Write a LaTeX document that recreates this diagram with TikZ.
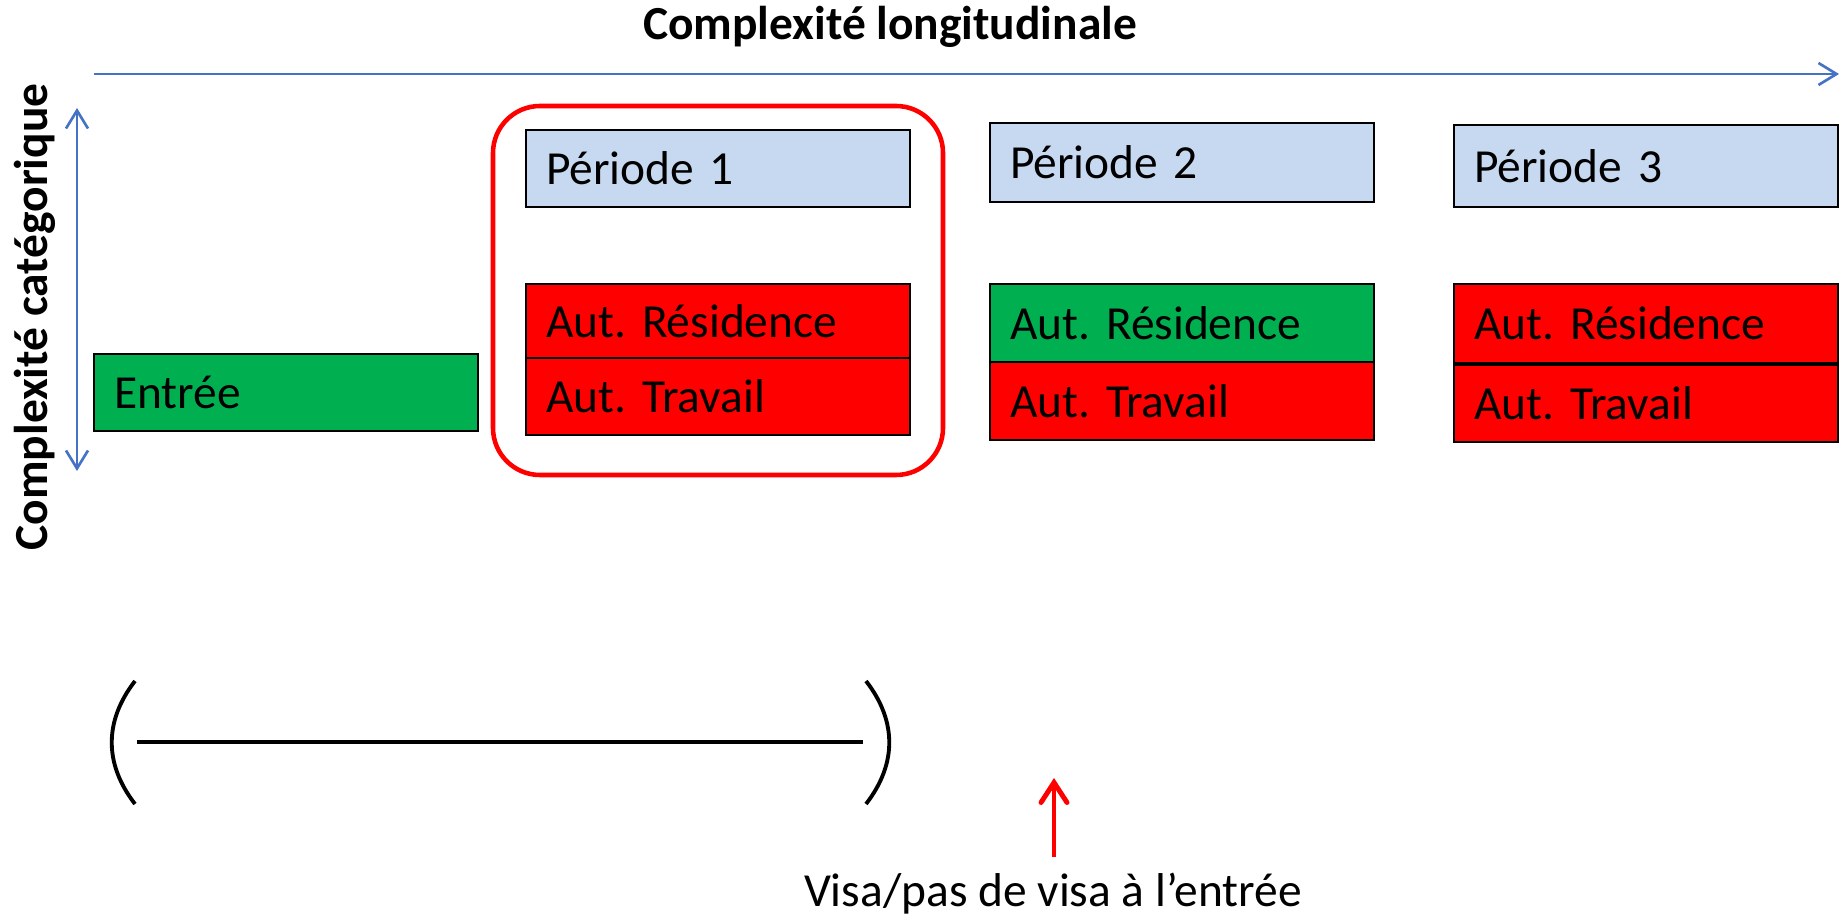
\documentclass[tikz,border=0pt]{standalone}
\usepackage{fontspec}
\setmainfont{Carlito}
\usetikzlibrary{arrows.meta,positioning}

\definecolor{axisblue}{RGB}{68,114,196}
\definecolor{perblue}{RGB}{198,217,240}
\definecolor{okgreen}{RGB}{0,176,80}
\definecolor{kored}{RGB}{255,0,0}

\tikzset{
  cell/.style={draw=black, line width=0.8pt, anchor=north west, text width=3.44cm,
    inner xsep=0.2cm, inner ysep=0pt, outer sep=0pt, minimum height=0.77cm, align=left},
  axis/.style={axisblue, line width=0.75pt},
  axislabel/.style={font=\fontsize{13.5}{16}\selectfont\bfseries}
}

\begin{document}
\frenchspacing
\begin{tikzpicture}[font=\fontsize{13.5}{16}\selectfont]
  \useasboundingbox (0,0) rectangle (18.48,9.21);

  % axes
  \node[axislabel] (xlab) at (8.90,8.94) {Complexité longitudinale};
  \draw[axis, -{Straight Barb[length=0.18cm, width=0.22cm]}] (0.94,8.47) -- (18.39,8.47);
  \node[axislabel, rotate=90] (ylab) at (0.35,6.04) {Complexité catégorique};
  \draw[axis, {Straight Barb[length=0.18cm, width=0.22cm]}-{Straight Barb[length=0.18cm, width=0.22cm]}] (0.77,8.13) -- (0.77,4.50);

  % entry
  \node[cell, fill=okgreen] (entree) at (0.94,5.67) {Entrée};

  % period 1
  \draw[kored, line width=1.3pt, rounded corners=0.47cm] (4.93,4.46) rectangle (9.43,8.15);
  \node[cell, fill=perblue] (per1) at (5.26,7.91) {Période 1};
  \node[cell, fill=kored, minimum height=0.74cm] (res1) at (5.26,6.37) {Aut. Résidence};
  \node[cell, fill=kored, below=0pt of res1] (trav1) {Aut. Travail};

  % period 2
  \node[cell, fill=perblue, minimum height=0.79cm] (per2) at (9.90,7.98) {Période 2};
  \node[cell, fill=okgreen, minimum height=0.78cm] (res2) at (9.90,6.37) {Aut. Résidence};
  \node[cell, fill=kored, minimum height=0.78cm, below=0pt of res2] (trav2) {Aut. Travail};

  % period 3
  \node[cell, fill=perblue, minimum height=0.82cm] (per3) at (14.54,7.96) {Période 3};
  \node[cell, fill=kored, minimum height=0.79cm] (res3) at (14.54,6.37) {Aut. Résidence};
  \node[cell, fill=kored, below=0.02cm of res3] (trav3) {Aut. Travail};

  % bracket
  \draw[line width=1.1pt] (1.35,2.40) .. controls (1.04,2.00) and (1.04,1.57) .. (1.35,1.17);
  \draw[line width=1.1pt] (8.66,2.40) .. controls (8.97,2.00) and (8.97,1.57) .. (8.66,1.17);
  \draw[line width=1.2pt] (1.37,1.79) -- (8.63,1.79);

  % visa
  \node (visa) at (10.53,0.27) {Visa/pas de visa à l’entrée};
  \coordinate (visafoot) at (10.54,0.64);
  \coordinate (visatip) at (10.54,1.43);
  \draw[kored, line width=1.4pt, -{Straight Barb[length=0.2cm, width=0.26cm, line cap=round]}] (visafoot) -- (visatip);
\end{tikzpicture}
\end{document}
